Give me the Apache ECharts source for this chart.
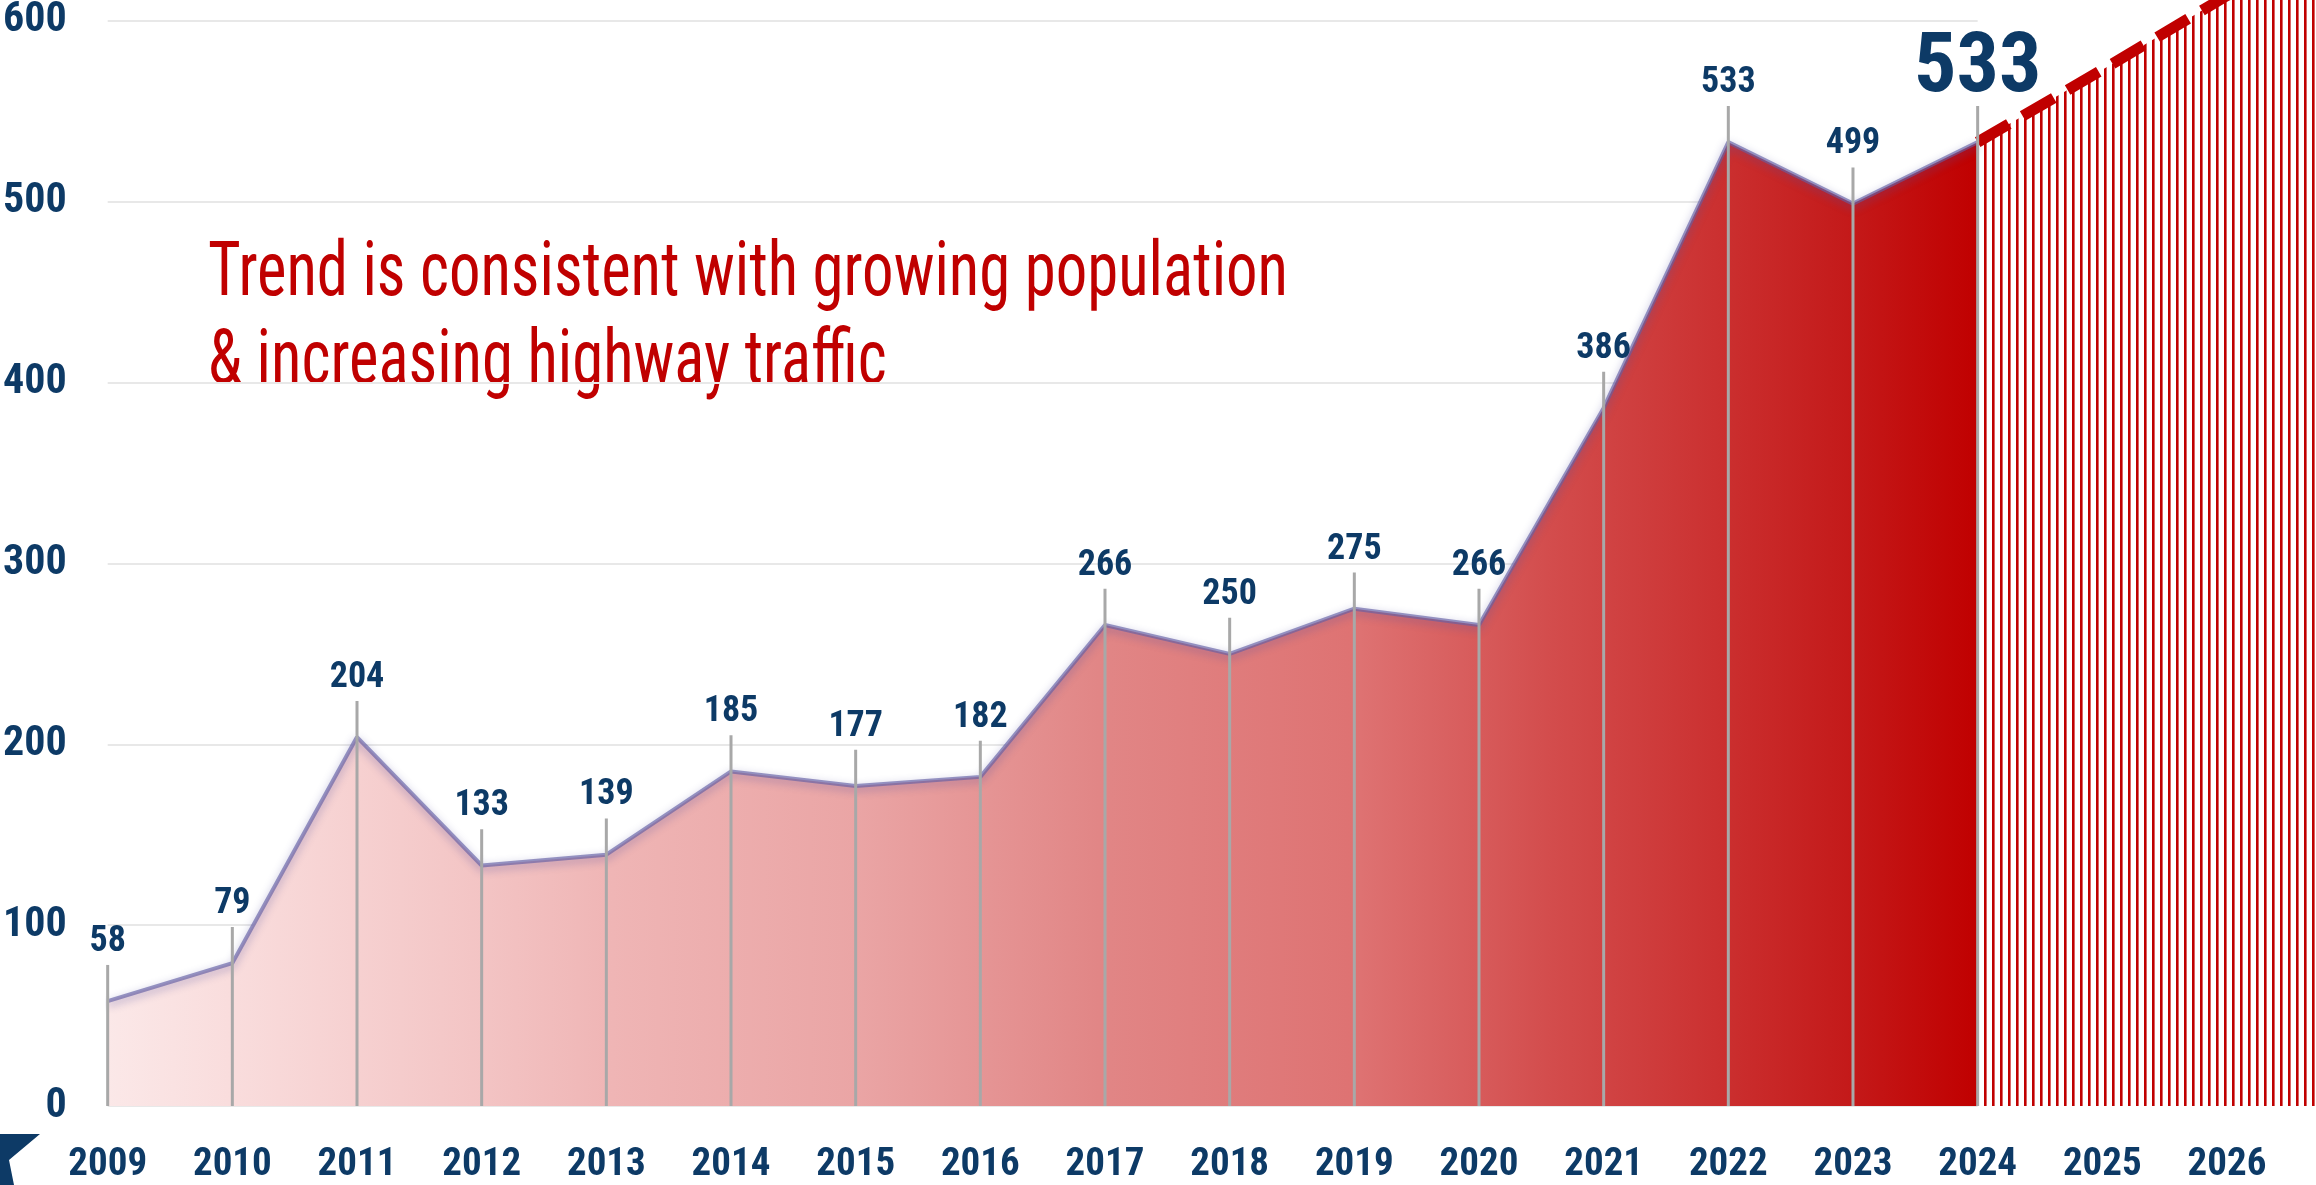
<!DOCTYPE html>
<html>
<head>
<meta charset="utf-8">
<style>
  html, body { margin: 0; padding: 0; background: #ffffff; }
  #main { width: 2316px; height: 1185px; }
</style>
<script src="https://cdn.jsdelivr.net/npm/echarts@6/dist/echarts.min.js"></script>
</head>
<body>
<div id="main"></div>
<script>
// data
var years = [2009, 2010, 2011, 2012, 2013, 2014, 2015, 2016, 2017, 2018, 2019, 2020, 2021, 2022, 2023, 2024];
var values = [58, 79, 204, 133, 139, 185, 177, 182, 266, 250, 275, 266, 386, 533, 499, 533];
var projYears = [2024, 2025, 2026, 2027];
var projValues = [533, 573, 614, 654];
var yTicks = [0, 100, 200, 300, 400, 500, 600];
var note = ['Trend is consistent with growing population', '& increasing highway traffic'];

var NAVY = '#0d3a66';
var RED = '#c00000';
var FONT = "'Roboto Condensed', 'DejaVu Sans Condensed', sans-serif";

// vertical hatch for the projected part
var hatch = document.createElement('canvas');
hatch.width = 8;
hatch.height = 8;
var hctx = hatch.getContext('2d');
hctx.fillStyle = RED;
hctx.fillRect(0, 0, 2.6, 8);

// squeeze the note so it has the narrow look of the original
function squeeze(text, font, target) {
  var c = document.createElement('canvas').getContext('2d');
  c.font = font;
  return target / c.measureText(text).width;
}
var noteFont = "76px " + FONT;
var noteScale = squeeze(note[0], noteFont, 1080);

var myChart = echarts.init(document.getElementById('main'));

var areaData = years.map(function (y, i) { return [y, values[i]]; });
var projData = projYears.map(function (y, i) { return [y, projValues[i]]; });
var stickData = years.map(function (y, i) {
  var item = { value: [y, values[i] + 20] };
  if (i === years.length - 1) {
    item.label = { fontSize: 84, fontWeight: 'bold', distance: -6 };
  }
  return item;
});
var gridData = yTicks.map(function (t) {
  return { coords: [[years[0], t], [years[years.length - 1], t]] };
});

myChart.setOption({
  animation: false,
  grid: { left: 106, right: 0, top: 0, bottom: 77 },
  xAxis: {
    type: 'value',
    min: 2009,
    max: 2026.69,
    interval: 1,
    axisLine: { show: false },
    axisTick: { show: false },
    splitLine: { show: false },
    axisLabel: {
      color: NAVY,
      fontFamily: FONT,
      fontWeight: 'bold',
      fontSize: 39,
      margin: 40,
      formatter: function (v) { return v % 1 === 0 ? String(v) : ''; }
    }
  },
  yAxis: {
    type: 'value',
    min: 0,
    max: 611,
    interval: 100,
    axisLine: { show: false },
    axisTick: { show: false },
    splitLine: { show: false },
    axisLabel: {
      color: NAVY,
      fontFamily: FONT,
      fontWeight: 'bold',
      fontSize: 42,
      margin: 41,
      formatter: function (v) { return v % 100 === 0 ? String(v) : ''; }
    }
  },
  series: [{
    // grid lines only across the measured years
    type: 'lines',
    coordinateSystem: 'cartesian2d',
    z: 1,
    silent: true,
    lineStyle: { color: '#e8e8e8', width: 2, opacity: 1 },
    data: gridData
  }, {
    type: 'line',
    data: areaData,
    z: 2,
    symbol: 'none',
    lineStyle: {
      color: 'rgba(100,95,165,0.65)',
      width: 4,
      shadowBlur: 9,
      shadowOffsetY: 3,
      shadowColor: 'rgba(85,80,160,0.7)'
    },
    areaStyle: {
      opacity: 1,
      color: new echarts.graphic.LinearGradient(0, 0, 1, 0, [
        { offset: 0, color: '#fbe8e8' },
        { offset: 0.07, color: '#f9dcdc' },
        { offset: 0.2, color: '#f3c4c4' },
        { offset: 0.27, color: '#efb5b5' },
        { offset: 0.4, color: '#eaa5a5' },
        { offset: 0.53, color: '#e18686' },
        { offset: 0.67, color: '#de7272' },
        { offset: 0.77, color: '#d34d4d' },
        { offset: 0.85, color: '#cc3434' },
        { offset: 0.93, color: '#c41a1a' },
        { offset: 1, color: '#c00000' }
      ])
    }
  }, {
    type: 'line',
    data: projData,
    z: 3,
    symbol: 'none',
    lineStyle: { color: RED, width: 11, type: [36, 16], cap: 'butt' },
    areaStyle: { opacity: 1, color: { image: hatch, repeat: 'repeat' } }
  }, {
    type: 'bar',
    data: stickData,
    z: 4,
    barWidth: 3,
    itemStyle: { color: '#a8a8a8' },
    label: {
      show: true,
      position: 'top',
      distance: 5,
      color: NAVY,
      fontFamily: FONT,
      fontWeight: 'bold',
      fontSize: 36,
      formatter: function (p) { return String(values[p.dataIndex]); }
    }
  }],
  graphic: [{
    type: 'text',
    x: 208,
    y: 276,
    scaleX: noteScale,
    style: { text: note[0], fill: RED, font: noteFont, verticalAlign: 'middle' }
  }, {
    type: 'text',
    x: 208,
    y: 364,
    scaleX: noteScale,
    style: { text: note[1], fill: RED, font: noteFont, verticalAlign: 'middle' }
  }, {
    type: 'polygon',
    shape: { points: [[0, 1134], [40, 1134], [9, 1160], [14, 1185], [0, 1185]] },
    style: { fill: NAVY }
  }]
});
</script>
</body>
</html>
